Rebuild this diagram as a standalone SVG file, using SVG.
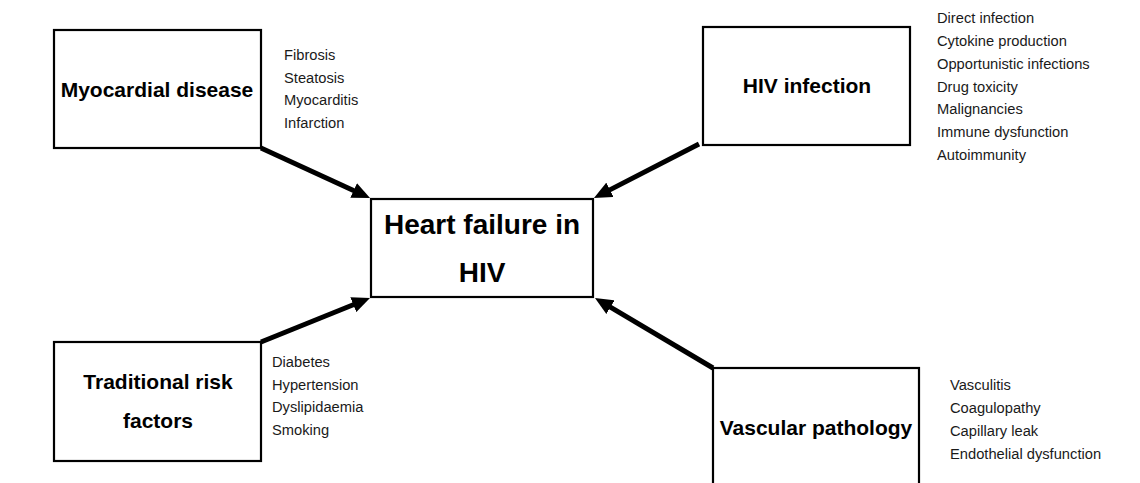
<svg xmlns="http://www.w3.org/2000/svg" width="1140" height="483" viewBox="0 0 1140 483">
<style>
.box{fill:#fff;stroke:#000;stroke-width:2.2}
.title{font-family:"Liberation Sans",Arial,sans-serif;font-weight:bold;fill:#000;text-anchor:middle}
.t21{font-size:21px}
.t28{font-size:28px}
.item{font-family:"Liberation Sans",Arial,sans-serif;font-size:14.7px;fill:#1a1a1a}
.conn{stroke:#000;stroke-width:5;fill:none;marker-end:url(#ah)}
</style>
<defs>
<marker id="ah" markerUnits="userSpaceOnUse" viewBox="0 0 18 16" markerWidth="18" markerHeight="16" refX="4" refY="8" orient="auto">
<path d="M0,0 L18,8 L0,16 Z" fill="#000"/>
</marker>
</defs>
<rect width="1140" height="483" fill="#fff"/>
<g id="connectors">
<path class="conn" d="M261,148 L357.3,192.2"/>
<path class="conn" d="M699,144 L606.4,191.6"/>
<path class="conn" d="M261,342 L357,303.2"/>
<path class="conn" d="M713,368 L607,305.1"/>
</g>
<g id="myocardial">
<rect class="box" x="54" y="30" width="207" height="118"/>
<text class="title t21" x="157" y="97">Myocardial disease</text>
<text class="item" x="284" y="60">Fibrosis</text>
<text class="item" x="284" y="82.7">Steatosis</text>
<text class="item" x="284" y="105.4">Myocarditis</text>
<text class="item" x="284" y="128">Infarction</text>
</g>
<g id="hiv">
<rect class="box" x="703" y="27" width="207" height="118"/>
<text class="title t21" x="807" y="93">HIV infection</text>
<text class="item" x="937" y="23">Direct infection</text>
<text class="item" x="937" y="46">Cytokine production</text>
<text class="item" x="937" y="68.8">Opportunistic infections</text>
<text class="item" x="937" y="91.5">Drug toxicity</text>
<text class="item" x="937" y="114.3">Malignancies</text>
<text class="item" x="937" y="137">Immune dysfunction</text>
<text class="item" x="937" y="159.8">Autoimmunity</text>
</g>
<g id="center">
<rect class="box" x="371" y="199" width="222" height="98"/>
<text class="title t28" x="482" y="234">Heart failure in</text>
<text class="title t28" x="482" y="282">HIV</text>
</g>
<g id="traditional">
<rect class="box" x="54" y="342" width="207" height="119"/>
<text class="title t21" x="158" y="389">Traditional risk</text>
<text class="title t21" x="158" y="428">factors</text>
<text class="item" x="272" y="367">Diabetes</text>
<text class="item" x="272" y="389.7">Hypertension</text>
<text class="item" x="272" y="412.4">Dyslipidaemia</text>
<text class="item" x="272" y="435">Smoking</text>
</g>
<g id="vascular">
<rect class="box" x="713" y="368" width="206" height="140"/>
<text class="title t21" x="816" y="435">Vascular pathology</text>
<text class="item" x="950" y="390">Vasculitis</text>
<text class="item" x="950" y="413">Coagulopathy</text>
<text class="item" x="950" y="436">Capillary leak</text>
<text class="item" x="950" y="459">Endothelial dysfunction</text>
</g>
</svg>
